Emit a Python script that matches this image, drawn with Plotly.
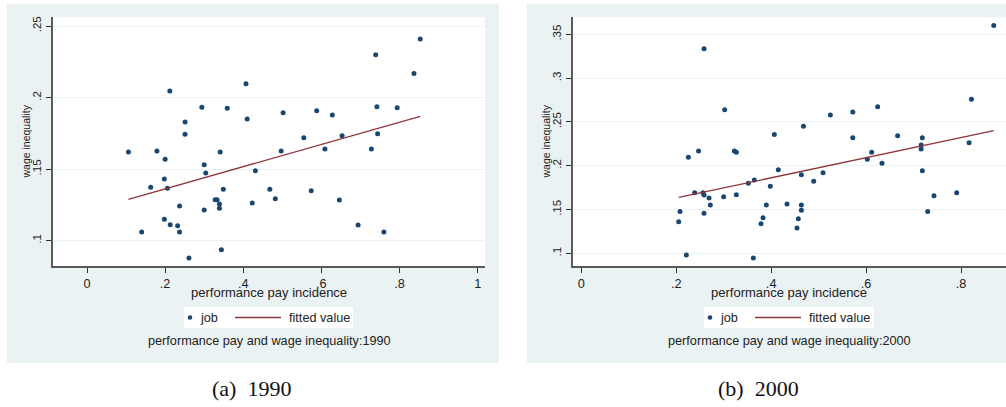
import plotly.graph_objects as go

W, H = 1006, 407

# ---------------- data: 1990 panel ----------------
job_x_1990 = [0.106, 0.140, 0.163, 0.179, 0.198, 0.198, 0.200, 0.206, 0.212, 0.213,
              0.232, 0.237, 0.237, 0.251, 0.251, 0.261, 0.294, 0.300, 0.300, 0.304,
              0.328, 0.333, 0.339, 0.339, 0.341, 0.344, 0.349, 0.359, 0.407, 0.410,
              0.423, 0.431, 0.468, 0.482, 0.497, 0.502, 0.555, 0.574, 0.588, 0.609,
              0.628, 0.646, 0.653, 0.694, 0.728, 0.739, 0.742, 0.744, 0.760, 0.794,
              0.837, 0.853]
job_y_1990 = [0.1620, 0.1061, 0.1373, 0.1627, 0.1431, 0.1149, 0.1569, 0.1366, 0.2046, 0.1112,
              0.1105, 0.1242, 0.1061, 0.1829, 0.1743, 0.0879, 0.1932, 0.1531, 0.1214, 0.1473,
              0.1286, 0.1286, 0.1256, 0.1226, 0.1620, 0.0937, 0.1359, 0.1925, 0.2097, 0.1850,
              0.1263, 0.1489, 0.1359, 0.1293, 0.1627, 0.1894, 0.1720, 0.1349, 0.1908, 0.1641,
              0.1878, 0.1284, 0.1733, 0.1109, 0.1641, 0.2299, 0.1936, 0.1747, 0.1061, 0.1929,
              0.2169, 0.2409]
fit_x_1990 = [0.106, 0.853]
fit_y_1990 = [0.1289, 0.1869]

# ---------------- data: 2000 panel ----------------
job_x_2000 = [0.869, 0.2585, 0.302, 0.822, 0.6244, 0.572, 0.5247, 0.468, 0.4067, 0.572,
              0.6665, 0.7185, 0.716, 0.716, 0.817, 0.247, 0.2255, 0.3224, 0.3266, 0.6118,
              0.6026, 0.6335, 0.415, 0.7185, 0.4636, 0.5092, 0.4896, 0.3645, 0.3519, 0.3982,
              0.2388, 0.2564, 0.2585, 0.269, 0.2999, 0.3266, 0.7431, 0.7909, 0.2718, 0.3898,
              0.4334, 0.4636, 0.4636, 0.2079, 0.7298, 0.2585, 0.3828, 0.4572, 0.2051, 0.3786,
              0.4544, 0.2212, 0.3624]
job_y_2000 = [0.3599, 0.3336, 0.2640, 0.2758, 0.2674, 0.2613, 0.2579, 0.2450, 0.2355, 0.2320,
              0.2343, 0.2320, 0.2237, 0.2191, 0.2263, 0.2168, 0.2096, 0.2168, 0.2153, 0.2153,
              0.2073, 0.2027, 0.1955, 0.1944, 0.1898, 0.1921, 0.1822, 0.1837, 0.1799, 0.1765,
              0.1693, 0.1693, 0.1666, 0.1632, 0.1647, 0.1670, 0.1658, 0.1693, 0.1552, 0.1552,
              0.1563, 0.1552, 0.1491, 0.1479, 0.1479, 0.1457, 0.1407, 0.1396, 0.1361, 0.1339,
              0.1289, 0.0981, 0.0947]
fit_x_2000 = [0.2051, 0.869]
fit_y_2000 = [0.1639, 0.2400]

# ---------------- ticks / labels ----------------
x_tickvals_1990 = [0, 0.2, 0.4, 0.6, 0.8, 1]
x_ticktext_1990 = ["0", ".2", ".4", ".6", ".8", "1"]
y_tickvals_1990 = [0.1, 0.15, 0.2, 0.25]
y_ticktext_1990 = [".1", ".15", ".2", ".25"]
x_tickvals_2000 = [0, 0.2, 0.4, 0.6, 0.8]
x_ticktext_2000 = ["0", ".2", ".4", ".6", ".8"]
y_tickvals_2000 = [0.1, 0.15, 0.2, 0.25, 0.3, 0.35]
y_ticktext_2000 = [".1", ".15", ".2", ".25", ".3", ".35"]

x_title = "performance pay incidence"
y_title = "wage inequality"
legend_labels = ["job", "fitted value"]
notes = ["performance pay and wage inequality:1990", "performance pay and wage inequality:2000"]
captions = ["(a)  1990", "(b)  2000"]

# ---------------- styles ----------------
NAVY = "#1a476f"
MAROON = "#90353b"
BG = "#eaf2f3"
GRID = "#eaf2f3"
AXIS = "#5a5a5a"
TXT = "#222222"
FONT = "Liberation Sans, Arial, sans-serif"


def px(x):
    return x / W


def py(y):
    return 1 - y / H


panels = [
    dict(jx=job_x_1990, jy=job_y_1990, fx=fit_x_1990, fy=fit_y_1990,
         xt=x_tickvals_1990, xtt=x_ticktext_1990, yt=y_tickvals_1990, ytt=y_ticktext_1990,
         xr=[-0.0878, 1.0188], yr=[0.0825, 0.2561],
         bg=(7, 4, 499, 363), plot=(52.7, 17.3, 485, 265.7),
         ytitle_x=26, leg=(184, 353), dot=190, jobx=199, line=(235, 281), fitx=288,
         cx=269, capx=252, note=notes[0], cap=captions[0]),
    dict(jx=job_x_2000, jy=job_y_2000, fx=fit_x_2000, fy=fit_y_2000,
         xt=x_tickvals_2000, xtt=x_ticktext_2000, yt=y_tickvals_2000, ytt=y_ticktext_2000,
         xr=[-0.0182, 0.8948], yr=[0.0859, 0.3694],
         bg=(527, 4, 1006, 363), plot=(572.7, 17.3, 1006, 265.7),
         ytitle_x=546, leg=(704, 874), dot=710, jobx=719, line=(755, 801), fitx=808,
         cx=789, capx=758, note=notes[1], cap=captions[1]),
]

fig = go.Figure()
shapes = []
annotations = []
layout_axes = {}

for i, p in enumerate(panels):
    n = "" if i == 0 else str(i + 1)
    xa, ya = "x" + n, "y" + n
    fig.add_trace(go.Scatter(x=p["jx"], y=p["jy"], mode="markers", xaxis=xa, yaxis=ya,
                             marker=dict(color=NAVY, size=5, line=dict(width=0)),
                             showlegend=False, name=legend_labels[0]))
    fig.add_trace(go.Scatter(x=p["fx"], y=p["fy"], mode="lines", xaxis=xa, yaxis=ya,
                             line=dict(color=MAROON, width=1.3),
                             showlegend=False, name=legend_labels[1]))
    x0, y0, x1, y1 = p["plot"]
    layout_axes["xaxis" + n] = dict(
        domain=[px(x0), px(x1)], range=p["xr"], anchor=ya,
        tickvals=p["xt"], ticktext=p["xtt"], ticks="outside", ticklen=5, tickwidth=1,
        tickcolor="#333", showline=True, linecolor=AXIS, linewidth=2, showgrid=False,
        zeroline=False, tickfont=dict(family=FONT, size=12.7, color=TXT), automargin=False)
    layout_axes["yaxis" + n] = dict(
        domain=[py(y1), py(y0)], range=p["yr"], anchor=xa,
        tickvals=p["yt"], ticktext=p["ytt"], ticks="outside", ticklen=5, tickwidth=1,
        tickcolor="#333", showline=True, linecolor=AXIS, linewidth=2, showgrid=True,
        gridcolor=GRID, gridwidth=1, zeroline=False, tickangle=-90,
        tickfont=dict(family=FONT, size=11.5, color=TXT), automargin=False)

    bx0, by0, bx1, by1 = p["bg"]
    shapes.append(dict(type="rect", xref="paper", yref="paper", layer="below",
                       x0=px(bx0), x1=px(bx1), y0=py(by1), y1=py(by0),
                       fillcolor=BG, line=dict(width=0)))
    shapes.append(dict(type="rect", xref="paper", yref="paper", layer="below",
                       x0=px(x0), x1=px(x1), y0=py(y1), y1=py(y0),
                       fillcolor="white", line=dict(width=0)))
    # legend box
    lx0, lx1 = p["leg"]
    shapes.append(dict(type="rect", xref="paper", yref="paper", layer="above",
                       x0=px(lx0), x1=px(lx1), y0=py(328), y1=py(307),
                       fillcolor="white", line=dict(width=0)))
    shapes.append(dict(type="circle", xref="paper", yref="paper", layer="above",
                       x0=px(p["dot"] - 2.3), x1=px(p["dot"] + 2.3),
                       y0=py(317.5 + 2.3), y1=py(317.5 - 2.3),
                       fillcolor=NAVY, line=dict(width=0)))
    shapes.append(dict(type="line", xref="paper", yref="paper", layer="above",
                       x0=px(p["line"][0]), x1=px(p["line"][1]), y0=py(317.5), y1=py(317.5),
                       line=dict(color=MAROON, width=1.3)))
    annotations.append(dict(text=legend_labels[0], xref="paper", yref="paper",
                            x=px(p["jobx"]), y=py(317.5), xanchor="left", yanchor="middle",
                            showarrow=False, borderpad=0,
                            font=dict(family=FONT, size=12.7, color=TXT)))
    annotations.append(dict(text=legend_labels[1], xref="paper", yref="paper",
                            x=px(p["fitx"]), y=py(317.5), xanchor="left", yanchor="middle",
                            showarrow=False, borderpad=0,
                            font=dict(family=FONT, size=12.7, color=TXT)))
    # axis titles
    annotations.append(dict(text=x_title, xref="paper", yref="paper",
                            x=px(p["cx"]), y=py(292), xanchor="center", yanchor="middle",
                            showarrow=False, borderpad=0,
                            font=dict(family=FONT, size=13, color=TXT)))
    annotations.append(dict(text=y_title, xref="paper", yref="paper", textangle=-90,
                            x=px(p["ytitle_x"]), y=py((y0 + y1) / 2), xanchor="center",
                            yanchor="middle", showarrow=False, borderpad=0,
                            font=dict(family=FONT, size=10.5, color=TXT)))
    # note under legend
    annotations.append(dict(text=p["note"], xref="paper", yref="paper",
                            x=px(p["cx"]), y=py(341), xanchor="center", yanchor="middle",
                            showarrow=False, borderpad=0,
                            font=dict(family=FONT, size=12.7, color=TXT)))
    # caption
    annotations.append(dict(text=p["cap"], xref="paper", yref="paper",
                            x=px(p["capx"]), y=py(388), xanchor="center", yanchor="middle",
                            showarrow=False, borderpad=0,
                            font=dict(family="Liberation Serif, DejaVu Serif, serif",
                                      size=22, color="#111")))

fig.update_layout(
    width=W, height=H, margin=dict(l=0, r=0, t=0, b=0),
    paper_bgcolor="white", plot_bgcolor="white",
    shapes=shapes, annotations=annotations, showlegend=False,
    font=dict(family=FONT, color=TXT),
    **layout_axes,
)

fig.write_html("out.html")
